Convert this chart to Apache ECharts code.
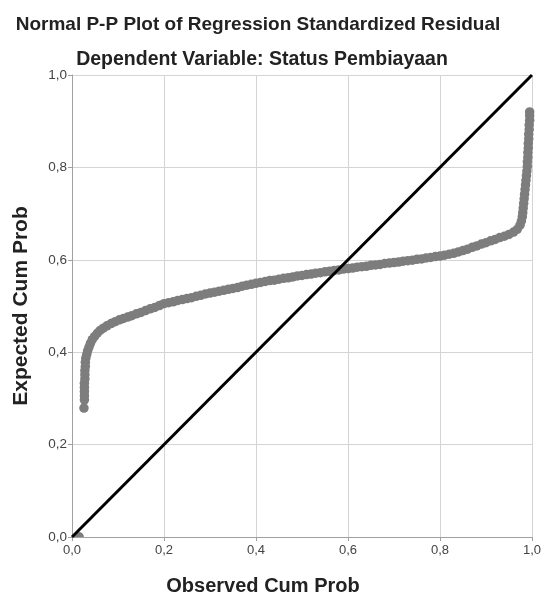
<!DOCTYPE html>
<html><head><meta charset="utf-8">
<script src="https://cdn.jsdelivr.net/npm/echarts@6/dist/echarts.min.js"></script>
<style>html,body{margin:0;padding:0;background:#fff}#c{width:544px;height:599px}</style>
</head><body><div id="c"></div>
<script>
var titleText = "Normal P-P Plot of Regression Standardized Residual";
var subtitleText = "Dependent Variable: Status Pembiayaan";
var xAxisName = "Observed Cum Prob";
var yAxisName = "Expected Cum Prob";
var tickValues = [0, 0.2, 0.4, 0.6, 0.8, 1.0];
var diagonalX = [0, 1];
var diagonalY = [0, 1];
var observed = [0.015,0.026,0.027,0.027,0.027,0.027,0.027,0.028,0.028,0.028,0.029,0.029,0.030,0.032,0.034,0.037,0.040,0.044,0.049,0.055,0.061,0.068,0.076,0.085,0.094,0.103,0.112,0.121,0.130,0.140,0.150,0.160,0.170,0.180,0.190,0.200,0.210,0.220,0.230,0.240,0.250,0.260,0.270,0.280,0.290,0.300,0.310,0.320,0.330,0.340,0.350,0.360,0.370,0.380,0.390,0.400,0.410,0.420,0.430,0.440,0.450,0.460,0.470,0.480,0.490,0.500,0.510,0.520,0.530,0.540,0.550,0.560,0.570,0.580,0.590,0.600,0.610,0.620,0.630,0.640,0.650,0.660,0.670,0.680,0.690,0.700,0.710,0.720,0.730,0.740,0.750,0.760,0.770,0.780,0.790,0.800,0.810,0.820,0.830,0.840,0.850,0.860,0.870,0.880,0.890,0.900,0.910,0.920,0.930,0.940,0.950,0.960,0.968,0.974,0.977,0.979,0.980,0.981,0.982,0.983,0.984,0.985,0.986,0.987,0.988,0.989,0.990,0.990,0.991,0.991,0.992,0.992,0.993,0.993,0.994,0.994,0.995,0.995,0.995];
var expected = [0.000,0.279,0.297,0.306,0.315,0.324,0.333,0.342,0.351,0.360,0.369,0.378,0.387,0.395,0.403,0.411,0.419,0.427,0.434,0.441,0.447,0.452,0.457,0.462,0.466,0.470,0.473,0.476,0.479,0.483,0.486,0.490,0.494,0.497,0.501,0.505,0.507,0.509,0.512,0.514,0.516,0.518,0.521,0.523,0.526,0.528,0.530,0.532,0.534,0.536,0.538,0.540,0.543,0.545,0.547,0.549,0.551,0.553,0.555,0.556,0.558,0.560,0.561,0.563,0.565,0.566,0.568,0.569,0.571,0.572,0.574,0.575,0.577,0.578,0.580,0.581,0.582,0.584,0.585,0.586,0.588,0.589,0.590,0.592,0.593,0.594,0.595,0.597,0.598,0.599,0.601,0.602,0.604,0.605,0.607,0.608,0.610,0.612,0.614,0.617,0.620,0.623,0.627,0.630,0.634,0.637,0.641,0.644,0.648,0.651,0.655,0.660,0.666,0.675,0.684,0.693,0.702,0.712,0.722,0.732,0.742,0.752,0.762,0.772,0.782,0.792,0.802,0.812,0.822,0.832,0.842,0.852,0.862,0.872,0.882,0.892,0.902,0.912,0.920];

var HALF = 'path://M0,10 A10,10 0 0 1 20,10 Z';
var pts = observed.map(function(x, i){
  var y = expected[i];
  if (y === 0) {
    // point on the lower edge: only the part inside the plot is visible
    return {value: [x, y], symbol: HALF, symbolSize: [10, 5], symbolOffset: [0, -2.5]};
  }
  return [x, y];
});
var diag = diagonalX.map(function(x, i){ return [x, diagonalY[i]]; });
var FONT = '"Liberation Sans", Arial, sans-serif';
function fmt(v){ return v.toFixed(1).replace('.', ','); }

var chart = echarts.init(document.getElementById('c'), null, {renderer:'canvas'});
chart.setOption({
  backgroundColor: '#ffffff',
  animation: false,
  title: [
    {text: titleText, left: 253, top: 10, textAlign: 'center',
     textStyle: {fontFamily: FONT, fontSize: 19, fontWeight: 'bold', color: '#222'}},
    {text: subtitleText, left: 257, top: 45, textAlign: 'center',
     textStyle: {fontFamily: FONT, fontSize: 19.5, fontWeight: 'bold', color: '#222'}},
    {text: xAxisName, left: 258, top: 571, textAlign: 'center',
     textStyle: {fontFamily: FONT, fontSize: 20, fontWeight: 'bold', color: '#222'}}
  ],
  grid: {left: 72, right: 7, top: 75, bottom: 62, containLabel: false},
  xAxis: {
    type: 'value', min: 0, max: 1, interval: 0.2,
    axisLine: {show: true, lineStyle: {color: '#a0a0a0', width: 1}},
    axisTick: {show: true, length: 4, lineStyle: {color: '#a0a0a0'}},
    axisLabel: {formatter: fmt, fontFamily: FONT, fontSize: 13, color: '#444', margin: 7},
    splitLine: {show: true, lineStyle: {color: '#d4d4d4', width: 1}}
  },
  yAxis: {
    type: 'value', min: 0, max: 1, interval: 0.2,
    name: yAxisName, nameLocation: 'middle', nameGap: 40,
    nameTextStyle: {fontFamily: FONT, fontSize: 21, fontWeight: 'bold', color: '#222'},
    axisLine: {show: true, lineStyle: {color: '#a0a0a0', width: 1}},
    axisTick: {show: true, length: 4, lineStyle: {color: '#a0a0a0'}},
    axisLabel: {formatter: fmt, fontFamily: FONT, fontSize: 13.5, color: '#444', margin: 5},
    splitLine: {show: true, lineStyle: {color: '#d4d4d4', width: 1}}
  },
  series: [
    {type: 'scatter', data: pts, symbol: 'circle', symbolSize: 9.5,
     itemStyle: {color: '#7d7d7d', opacity: 1}, z: 2, clip: false},
    {type: 'line', data: diag, showSymbol: false, symbol: 'none',
     lineStyle: {color: '#000', width: 3}, z: 3, clip: false}
  ]
});
</script></body></html>
